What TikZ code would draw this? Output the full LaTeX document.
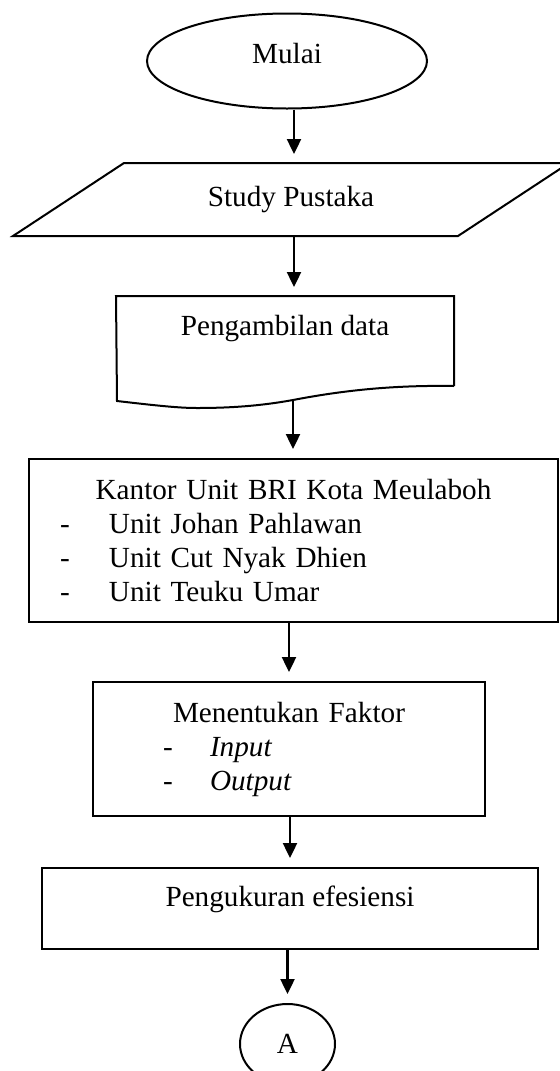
\documentclass[tikz,border=0pt]{standalone}
\usepackage{fontspec}
\setmainfont{Liberation Serif}
\usetikzlibrary{arrows.meta,shapes.geometric,calc}
\newcommand{\dashitem}[3]{\makebox[#2][l]{\hspace*{#1}-}#3}
\def\slant{55.5}
\tikzset{
  flow/.style     = {draw, line width=1pt, inner sep=0pt,
                     font=\fontsize{14.6}{17}\selectfont},
  terminal/.style = {flow, ellipse},
  process/.style  = {flow, rectangle},
  bare/.style     = {flow, draw=none, rectangle},
  outline/.style  = {line width=1pt},
  conn/.style     = {-{Triangle[length=7.5pt,width=7pt]},
                     line width=1.2pt, shorten >=4.5pt}
}

\begin{document}
\begin{tikzpicture}[x=0.5pt,y=-0.5pt]
\useasboundingbox (0,0) rectangle (560,1071);

% --- start and input ---
\node[terminal, minimum width=140pt, minimum height=47.5pt, text depth=8pt] (mulai) at (287,61) {Mulai};
\node[bare, minimum width=221.5pt, minimum height=35.5pt] (study) at (291,199.5) {Study Pustaka};
\draw[outline] ($(study.south west)+(-\slant,0)$) -- ($(study.south east)+(-\slant,0)$)
  -- ($(study.north east)+(\slant,0)$) -- ($(study.north west)+(\slant,0)$) -- cycle;

% --- document shape (wavy bottom drawn by hand) ---
\node[bare, minimum width=168pt, text height=19pt, text depth=25pt] (data) at (285,341) {Pengambilan data};
\coordinate (dataout) at (293,400);
\draw[outline] (data.south east) -- (data.north east) -- (data.north west) -- (117,401)
  .. controls (160,406) and (180,408) .. (197,408)
  .. controls (230,408) and (260,406) .. (dataout)
  .. controls (340,391) and (390,385) .. (data.south east);

% --- process boxes ---
\node[process, minimum width=264.5pt, minimum height=81.5pt, text width=264.5pt, align=left] (kantor) at (293.5,540.5) {%
  \makebox[\linewidth]{Kantor Unit BRI Kota Meulaboh}\\
  \dashitem{15.5pt}{40pt}{Unit Johan Pahlawan}\\
  \dashitem{15.5pt}{40pt}{Unit Cut Nyak Dhien}\\
  \dashitem{15.5pt}{40pt}{Unit Teuku Umar}};
\node[process, minimum width=196pt, minimum height=67pt, text width=196pt, align=left] (faktor) at (289,749) {%
  \makebox[\linewidth]{Menentukan Faktor}\\
  \dashitem{35pt}{58.5pt}{\textit{Input}}\\
  \dashitem{35pt}{58.5pt}{\textit{Output}}};
\node[process, minimum width=248pt, text height=19pt, text depth=21.5pt] (ukur) at (290,908.5) {Pengukuran efesiensi};

% --- connector ---
\node[terminal, minimum width=47.5pt, minimum height=40pt] (akhir) at (287.5,1044) {A};

% --- arrows ---
\coordinate (spine) at (294,0);
\draw[conn] (mulai.south -| spine) -- (study.north -| spine);
\draw[conn] (study.south -| spine) -- (data.north -| spine);
\draw[conn] (dataout) -- (kantor.north -| dataout);
\foreach \from/\to in {kantor/faktor, faktor/ukur, ukur/akhir}
  \draw[conn] (\from.south -| \to.north) -- (\to.north);

\end{tikzpicture}
\end{document}
